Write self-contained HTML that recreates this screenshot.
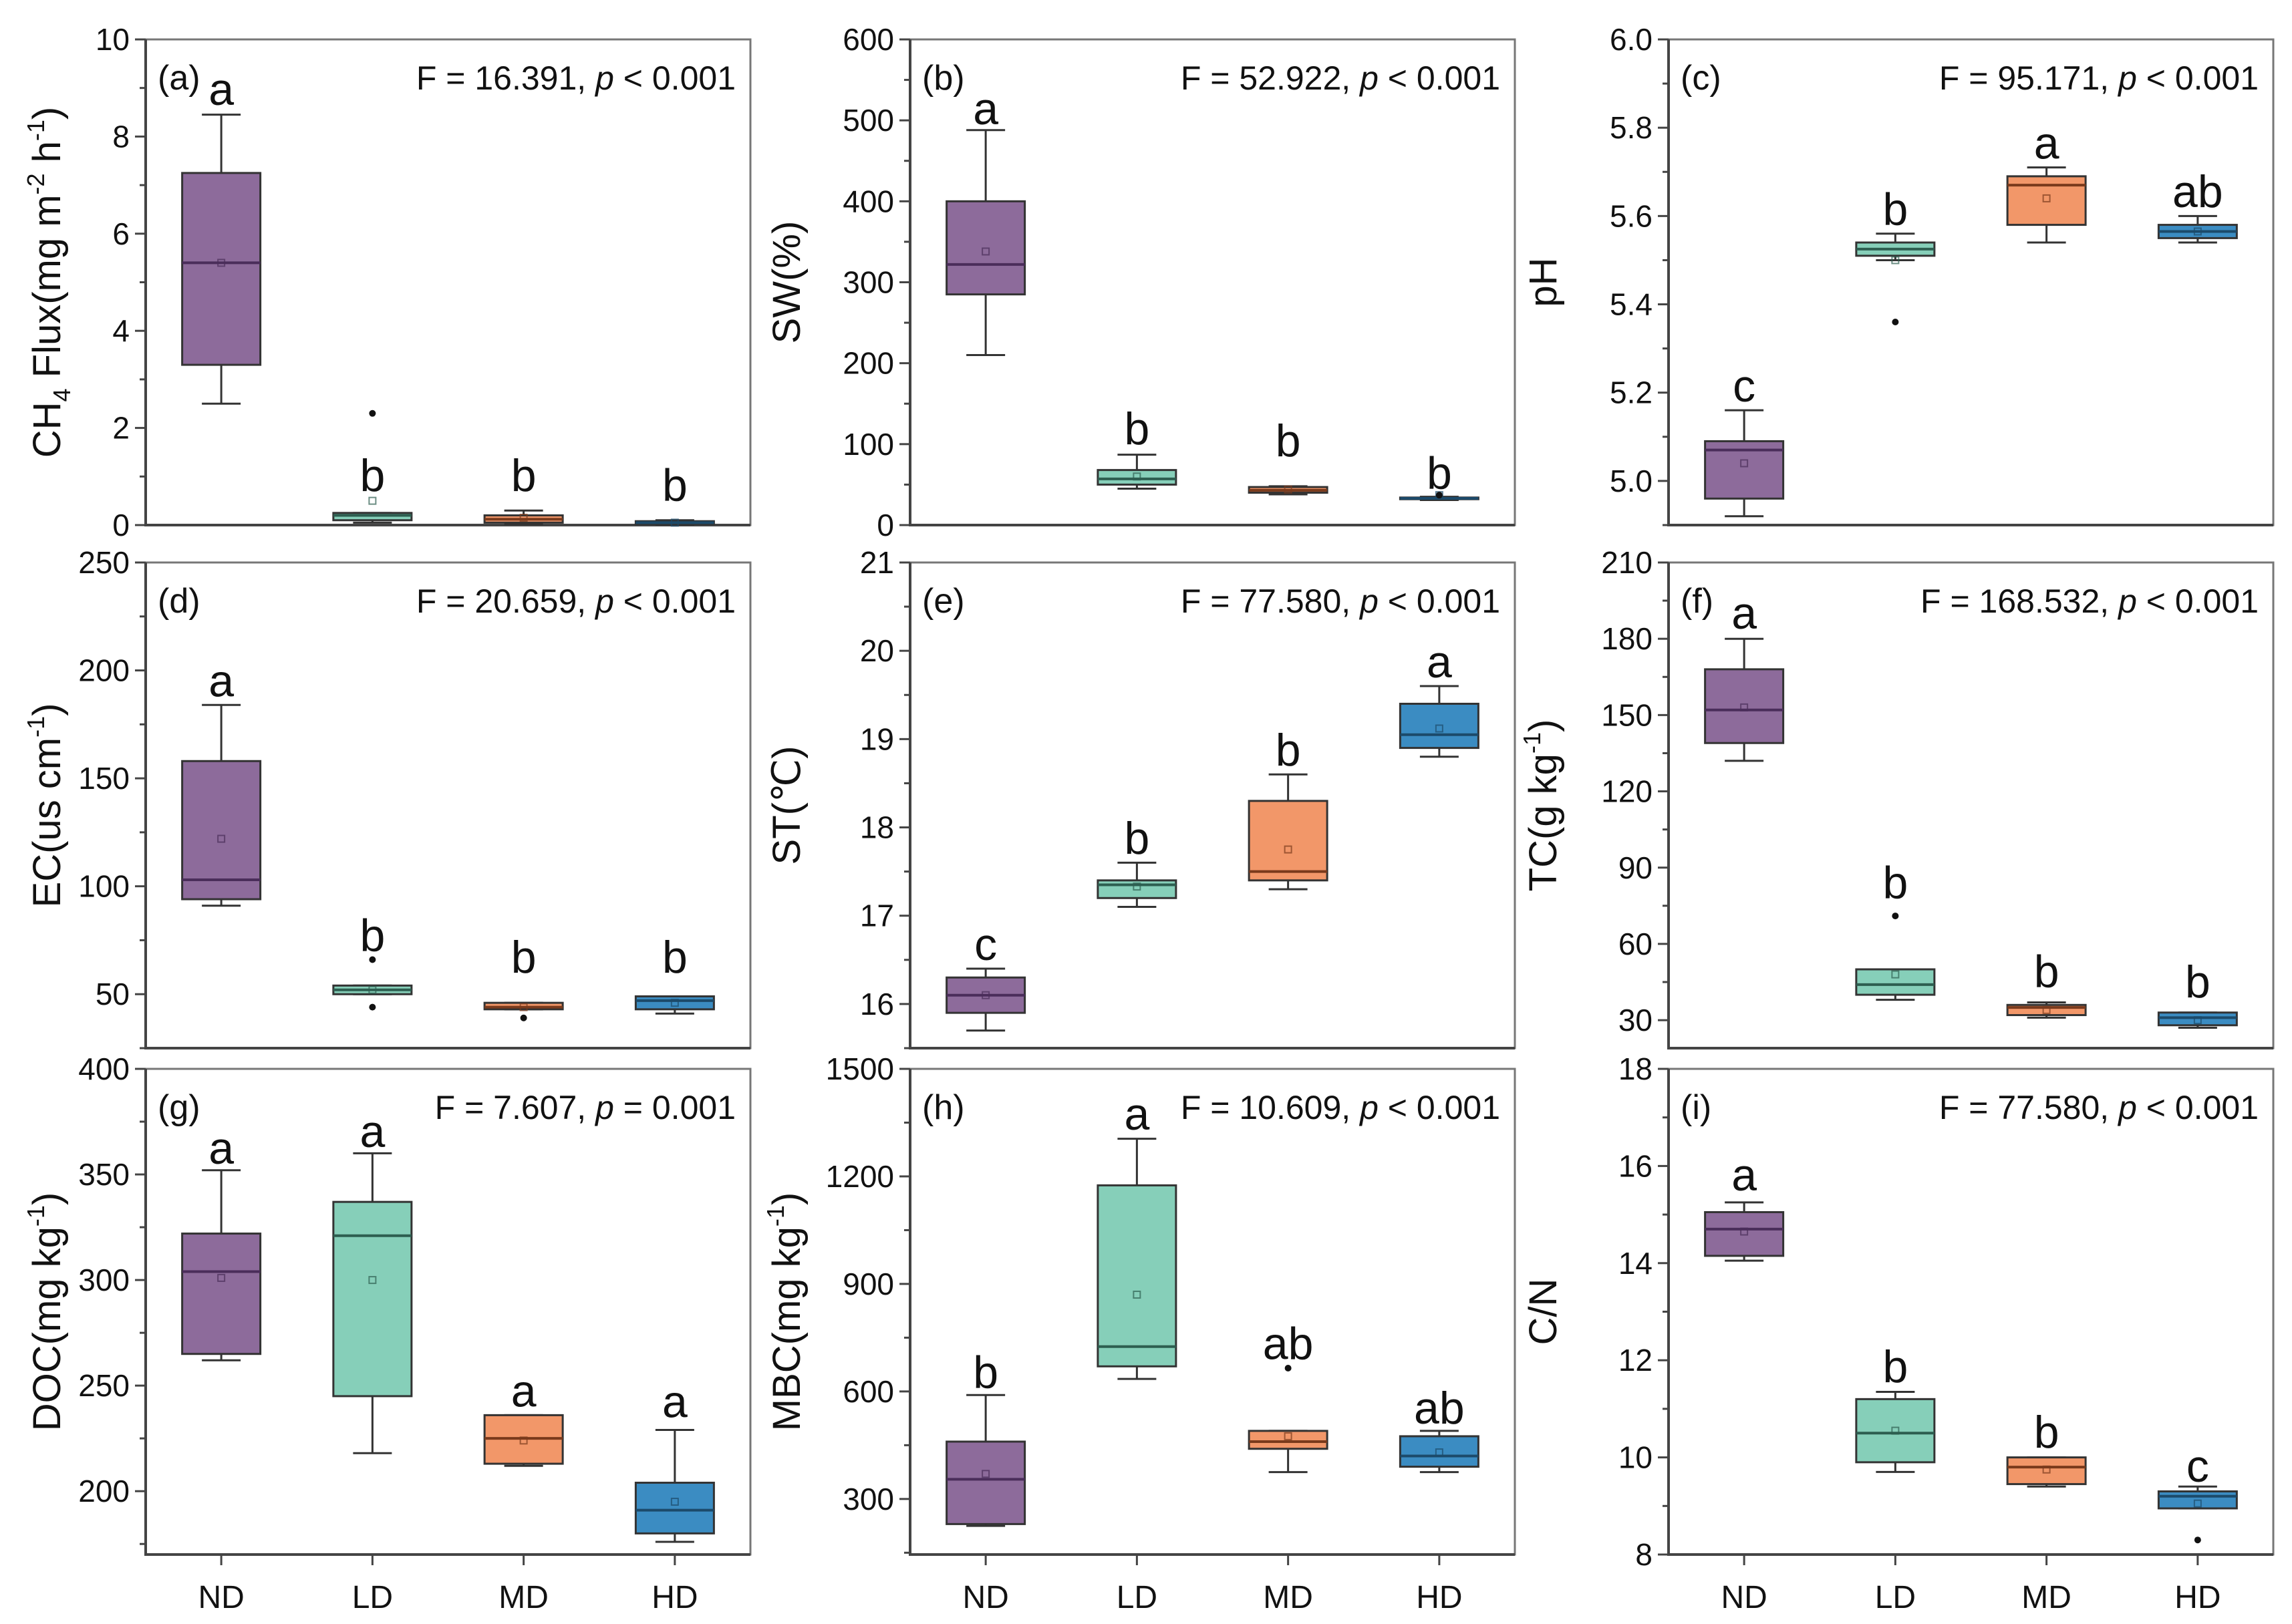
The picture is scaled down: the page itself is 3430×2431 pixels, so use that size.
<!DOCTYPE html>
<html><head><meta charset="utf-8"><style>
html,body{margin:0;padding:0;background:#fff}
svg{display:block}
text{font-family:"Liberation Sans",Arial,sans-serif;fill:#111}
</style></head><body>
<svg id="chart" width="3430" height="2431" viewBox="0 0 3430 2431" xmlns="http://www.w3.org/2000/svg"></svg>
<script>
const categories=["ND","LD","MD","HD"];
const colors=["#8d6b9b","#86cfb9","#f29769","#3b8cc2"];
const strokes=["#4a2d5a","#2d5e50","#7a3a1c","#1c4a6a"];
// per panel: [lo whisker, q1, median, q3, hi whisker, mean]
const statsA=[[2.5,3.3,5.4,7.25,8.45,5.4],[0.05,0.1,0.2,0.25,0.25,0.5],[0.02,0.05,0.12,0.2,0.3,0.15],[0.01,0.02,0.05,0.08,0.1,0.05]];
const statsB=[[210,285,322,400,488,338],[45,50,57,68,87,60],[38,40,43,47,48,44],[31,32,33,34,35,37]];
const statsC=[[4.92,4.96,5.07,5.09,5.16,5.04],[5.50,5.51,5.525,5.54,5.56,5.50],[5.54,5.58,5.67,5.69,5.71,5.64],[5.54,5.55,5.565,5.58,5.60,5.565]];
const statsD=[[91,94,103,158,184,122],[50,50,52,54,54,52],[43,43,44,46,46,44],[41,43,47,49,49,46]];
const statsE=[[15.7,15.9,16.1,16.3,16.4,16.1],[17.1,17.2,17.35,17.4,17.6,17.33],[17.3,17.4,17.5,18.3,18.6,17.75],[18.8,18.9,19.05,19.4,19.6,19.12]];
const statsF=[[132,139,152,168,180,153],[38,40,44,50,50,48],[31,32,35,36,37,34],[27,28,31,33,33,30]];
const statsG=[[262,265,304,322,352,301],[218,245,321,337,360,300],[212,213,225,236,236,224],[176,180,191,204,229,195]];
const statsH=[[225,230,355,460,590,370],[635,670,725,1175,1305,870],[375,440,460,490,490,475],[375,390,420,475,490,430]];
const statsI=[[14.05,14.15,14.7,15.05,15.25,14.65],[9.7,9.9,10.5,11.2,11.35,10.55],[9.4,9.45,9.8,10.0,10.0,9.75],[8.95,8.95,9.2,9.3,9.4,9.05]];
const outliersA=[[],[2.3],[],[]];
const outliersB=[[],[],[],[37]];
const outliersC=[[],[5.36],[],[]];
const outliersD=[[],[66,44],[39],[]];
const outliersE=[[],[],[],[]];
const outliersF=[[],[71],[],[]];
const outliersG=[[],[],[],[]];
const outliersH=[[],[],[665],[]];
const outliersI=[[],[],[],[8.3]];
const lettersA=["a","b","b","b"], letterYA=[8.65,0.7,0.7,0.5];
const lettersB=["a","b","b","b"], letterYB=[495,100,85,45];
const lettersC=["c","b","a","ab"], letterYC=[5.18,5.58,5.73,5.62];
const lettersD=["a","b","b","b"], letterYD=[188,70,60,60];
const lettersE=["c","b","b","a"], letterYE=[16.5,17.7,18.7,19.7];
const lettersF=["a","b","b","b"], letterYF=[184,78,43,39];
const lettersG=["a","a","a","a"], letterYG=[355,363,240,235];
const lettersH=["b","a","ab","ab"], letterYH=[610,1330,690,510];
const lettersI=["a","b","b","c"], letterYI=[15.5,11.55,10.2,9.5];
const ticksA=[0,2,4,6,8,10], ticksB=[0,100,200,300,400,500,600], ticksC=[5.0,5.2,5.4,5.6,5.8,6.0];
const ticksD=[50,100,150,200,250], ticksE=[16,17,18,19,20,21], ticksF=[30,60,90,120,150,180,210];
const ticksG=[200,250,300,350,400], ticksH=[300,600,900,1200,1500], ticksI=[8,10,12,14,16,18];
const tickLabelsC=["5.0","5.2","5.4","5.6","5.8","6.0"];

const panels=[
 {id:"a",col:0,row:0,min:0,max:10,ticks:ticksA,stats:statsA,out:outliersA,let:lettersA,ly:letterYA,F:"F = 16.391, ",P:"< 0.001",title:[["CH",""],["4","sub"],[" Flux(mg m",""],["-2","sup"],[" h",""],["-1","sup"],[")",""]]},
 {id:"b",col:1,row:0,min:0,max:600,ticks:ticksB,stats:statsB,out:outliersB,let:lettersB,ly:letterYB,F:"F = 52.922, ",P:"< 0.001",title:[["SW(%)",""]]},
 {id:"c",col:2,row:0,min:4.9,max:6.0,ticks:ticksC,labels:tickLabelsC,stats:statsC,out:outliersC,let:lettersC,ly:letterYC,F:"F = 95.171, ",P:"< 0.001",title:[["pH",""]]},
 {id:"d",col:0,row:1,min:25,max:250,ticks:ticksD,stats:statsD,out:outliersD,let:lettersD,ly:letterYD,F:"F = 20.659, ",P:"< 0.001",title:[["EC(us cm",""],["-1","sup"],[")",""]]},
 {id:"e",col:1,row:1,min:15.5,max:21,ticks:ticksE,stats:statsE,out:outliersE,let:lettersE,ly:letterYE,F:"F = 77.580, ",P:"< 0.001",title:[["ST(℃)",""]]},
 {id:"f",col:2,row:1,min:19,max:210,ticks:ticksF,stats:statsF,out:outliersF,let:lettersF,ly:letterYF,F:"F = 168.532, ",P:"< 0.001",title:[["TC(g kg",""],["-1","sup"],[")",""]]},
 {id:"g",col:0,row:2,min:170,max:400,ticks:ticksG,stats:statsG,out:outliersG,let:lettersG,ly:letterYG,F:"F = 7.607, ",P:"= 0.001",title:[["DOC(mg kg",""],["-1","sup"],[")",""]]},
 {id:"h",col:1,row:2,min:145,max:1500,ticks:ticksH,stats:statsH,out:outliersH,let:lettersH,ly:letterYH,F:"F = 10.609, ",P:"< 0.001",title:[["MBC(mg kg",""],["-1","sup"],[")",""]]},
 {id:"i",col:2,row:2,min:8,max:18,ticks:ticksI,stats:statsI,out:outliersI,let:lettersI,ly:letterYI,F:"F = 77.580, ",P:"< 0.001",title:[["C/N",""]]}
];
const colX=[218,1362,2497], W=905;
const rowY=[59,842,1600], H=727;
const titleOff=[128,165,168];
const NS="http://www.w3.org/2000/svg";
const svg=document.getElementById("chart");
function mk(tag,attrs,parent){const e=document.createElementNS(NS,tag);for(const k in attrs)e.setAttribute(k,attrs[k]);(parent||svg).appendChild(e);return e;}

panels.forEach(p=>{
 const x0=colX[p.col], y0=rowY[p.row];
 const g=mk("g",{});
 
 
 const ys=v=>y0+H-(v-p.min)/(p.max-p.min)*H;
 const xs=i=>x0+W*(0.125+0.25*i);
 const fr=mk("rect",{x:x0,y:y0,width:W,height:H,fill:"none",stroke:"#777","stroke-width":3},g);
 
 
 const ax=mk("path",{d:`M${x0} ${y0}V${y0+H}H${x0+W}`,fill:"none",stroke:"#444","stroke-width":4},g);
 
 
 const step=p.ticks[1]-p.ticks[0];
 p.ticks.forEach((t,k)=>{
  const y=ys(t);
  mk("line",{x1:x0-16,x2:x0,y1:y,y2:y,stroke:"#444","stroke-width":3},g);
  const tl=mk("text",{x:x0-24,y:y+16,"text-anchor":"end","font-size":46},g);
  
  
  tl.textContent=p.labels?p.labels[k]:String(t);
  const m=t-step/2;
  if(m>=p.min-1e-9){const ym=ys(m);mk("line",{x1:x0-9,x2:x0,y1:ym,y2:ym,stroke:"#444","stroke-width":3},g);}
 });
 const tx=x0-titleOff[p.col], ty=y0+H/2;
 const tt=mk("text",{x:tx,y:ty,"text-anchor":"middle","font-size":58,transform:`rotate(-90 ${tx} ${ty})`},g);
 
 
 p.title.forEach(([s,k])=>{
  const sp=mk("tspan",{},tt);sp.textContent=s;
  if(k==="sup"){sp.setAttribute("font-size","36");sp.setAttribute("dy","-24");}
  if(k==="sub"){sp.setAttribute("font-size","36");sp.setAttribute("dy","15");}
  if(k===""&&sp.previousSibling&&sp.previousSibling.getAttribute){
   const pv=sp.previousSibling.getAttribute("dy");
   if(pv)sp.setAttribute("dy",String(-parseFloat(pv)));
  }
 });
 const pl=mk("text",{x:x0+18,y:y0+75,"font-size":52},g);
 
 
 pl.textContent="("+p.id+")";
 const ft=mk("text",{x:x0+W-22,y:y0+75,"text-anchor":"end","font-size":50},g);
 
 
 const s1=mk("tspan",{},ft);s1.textContent=p.F;
 const s2=mk("tspan",{"font-style":"italic"},ft);s2.textContent="p";
 const s3=mk("tspan",{},ft);s3.textContent=" "+p.P;
 const bw=117, cw=58;
 p.stats.forEach((s,i)=>{
  const cx=xs(i);
  const bg=mk("g",{},g);
  
  
  const [lo,q1,md,q3,hi,mn]=s;
  mk("line",{x1:cx,x2:cx,y1:ys(hi),y2:ys(q3),stroke:"#333","stroke-width":3},bg);
  mk("line",{x1:cx,x2:cx,y1:ys(q1),y2:ys(lo),stroke:"#333","stroke-width":3},bg);
  mk("line",{x1:cx-cw/2,x2:cx+cw/2,y1:ys(hi),y2:ys(hi),stroke:"#333","stroke-width":3},bg);
  mk("line",{x1:cx-cw/2,x2:cx+cw/2,y1:ys(lo),y2:ys(lo),stroke:"#333","stroke-width":3},bg);
  mk("rect",{x:cx-bw/2,y:ys(q3),width:bw,height:Math.max(2,ys(q1)-ys(q3)),fill:colors[i],stroke:"#333","stroke-width":3},bg);
  mk("line",{x1:cx-bw/2,x2:cx+bw/2,y1:ys(md),y2:ys(md),stroke:strokes[i],"stroke-width":4},bg);
  mk("rect",{x:cx-5,y:ys(mn)-5,width:10,height:10,fill:"none",stroke:strokes[i],"stroke-width":2,opacity:0.7},bg);
  p.out[i].forEach(o=>{mk("circle",{cx:cx,cy:ys(o),r:5,fill:"#111"},bg);});
  const lt=mk("text",{x:cx,y:ys(p.ly[i]),"text-anchor":"middle","font-size":68},g);
  
  
  lt.textContent=p.let[i];
  if(p.row===2){
   mk("line",{x1:cx,x2:cx,y1:y0+H,y2:y0+H+16,stroke:"#444","stroke-width":3},g);
   const xl=mk("text",{x:cx,y:y0+H+80,"text-anchor":"middle","font-size":48},g);
   
   
   xl.textContent=categories[i];
  }
 });
});
</script>
</body></html>
